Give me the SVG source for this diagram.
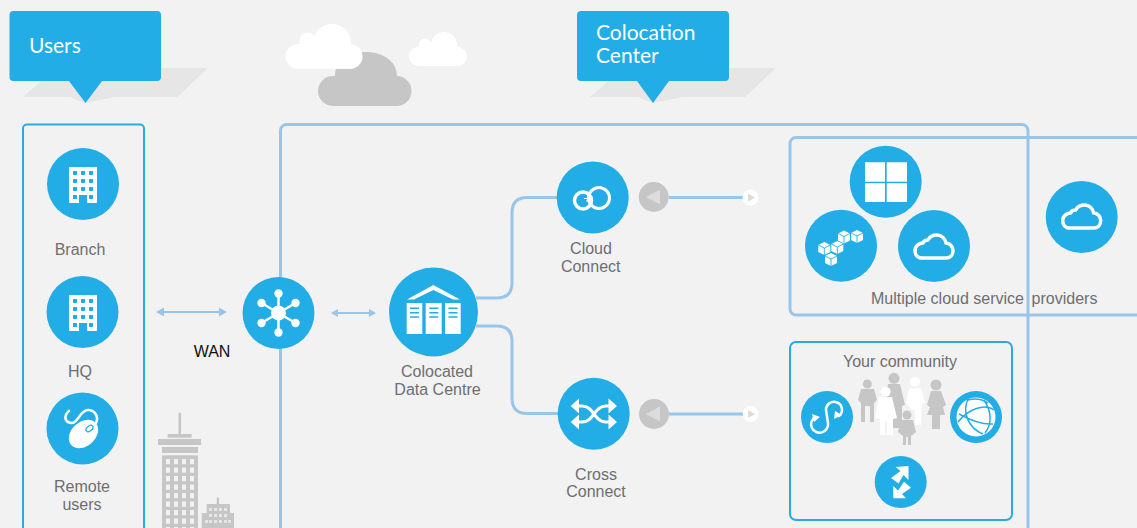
<svg xmlns="http://www.w3.org/2000/svg" width="1137" height="528" viewBox="0 0 1137 528">
<style>
.c{fill:#22ade6}
.w{fill:#fff}
.b{fill:#22ade6}
.ws{fill:none;stroke:#fff;stroke-linecap:round;stroke-linejoin:round}
.l{font-family:"Liberation Sans",Arial,sans-serif;font-size:16px;fill:#6d6e71;text-anchor:middle}
.h{font-family:"Lato","Open Sans",sans-serif;font-size:21px;fill:#fff}
.box1{fill:none;stroke:#29abe2;stroke-width:2}
.box2{fill:none;stroke:#98c6e9;stroke-width:3}
.wire{fill:none;stroke:#98c6e9;stroke-width:3}
.thin{fill:none;stroke:#98c6e9;stroke-width:2}
.ah{fill:#98c6e9}
.g{fill:#c6c6c6}
.sh{fill:#e6e6e6}
</style>
<defs>
<g id="bld">
<path class="w" d="M-14-18H14V18H4V10H-4V18H-14Z"/>
<path class="b" d="M-10-14h4v4h-4zM-2-14h4v4h-4zM6-14h4v4h-4zM-10-6h4v4h-4zM-2-6h4v4h-4zM6-6h4v4h-4zM-10 2h4v4h-4zM-2 2h4v4h-4zM6 2h4v4h-4zM-10 10h4v4h-4zM6 10h4v4h-4z"/>
</g>
<path id="cl" class="ws" stroke-width="3.500" d="M-12 11C-17 11-19 7-19 3.500-19-1-15-4-11-4-10-7-8-7-6-7-4-11 0-12 3-12 8-12 11-8 12-4 16-4 19 0 19 3.500 19 8 16 11 12 11Z"/>
<g id="cube">
<path class="w" d="M0-6.500L6-3.500V3.500L0 6.500-6 3.500V-3.500Z"/>
<path d="M-6-3.500L0-.5 6-3.500M0-.5V6.500" fill="none" stroke="#22ade6" stroke-width=".9"/>
</g>
</defs>
<rect width="1137" height="528" fill="#f2f2f2"/>

<g id="scenery">
<path class="sh" d="M23 97L56 68H208L177 97H115L85 103 70 97Z"/>
<path class="sh" d="M590 97L623 68H776L745 97H683L653 103 638 97Z"/>
<g class="g">
<path d="M333 106A15 15 0 0 1 333 76H335C335 62 349 52 366 52 384 52 397 62 397 76A15 15 0 0 1 396 106Z"/>
<rect x="178.500" y="412.700" width="2.600" height="22"/><rect x="167.700" y="434" width="24" height="3.700"/><rect x="158" y="439" width="43" height="6"/><rect x="162" y="447" width="36" height="6"/>
<rect x="162" y="455.300" width="36" height="72.700"/>
<rect x="216.700" y="497.700" width="2.400" height="7"/><path d="M206.700 504H230V513H234V528H201.700V513H206.700Z"/>
</g>
<path fill="#f2f2f2" d="M166 459h4v5.300h-4zM174 459h4v5.300h-4zM182 459h4v5.300h-4zM190 459h4v5.300h-4zM166 467.500h4v5.300h-4zM174 467.500h4v5.300h-4zM182 467.500h4v5.300h-4zM190 467.500h4v5.300h-4zM166 476h4v5.300h-4zM174 476h4v5.300h-4zM182 476h4v5.300h-4zM190 476h4v5.300h-4zM166 484.500h4v5.300h-4zM174 484.500h4v5.300h-4zM182 484.500h4v5.300h-4zM190 484.500h4v5.300h-4zM166 493h4v5.300h-4zM174 493h4v5.300h-4zM182 493h4v5.300h-4zM190 493h4v5.300h-4zM166 501.500h4v5.300h-4zM174 501.500h4v5.300h-4zM182 501.500h4v5.300h-4zM190 501.500h4v5.300h-4zM166 510h4v5.300h-4zM174 510h4v5.300h-4zM182 510h4v5.300h-4zM190 510h4v5.300h-4zM166 518.500h4v5.300h-4zM174 518.500h4v5.300h-4zM182 518.500h4v5.300h-4zM190 518.500h4v5.300h-4zM166 527h4v1h-4zM174 527h4v1h-4zM182 527h4v1h-4zM190 527h4v1h-4z"/>
<path fill="#e6e6e6" d="M209 508h3v3h-3zM214 508h3v3h-3zM219 508h3v3h-3zM224 508h3v3h-3zM209 514h3v3h-3zM214 514h3v3h-3zM219 514h3v3h-3zM224 514h3v3h-3zM205 520h3v3h-3zM209 520h3v3h-3zM214 520h3v3h-3zM219 520h3v3h-3zM224 520h3v3h-3zM228 520h3v3h-3z"/>
<g class="w">
<circle cx="332" cy="43" r="19"/><circle cx="308" cy="41" r="8.500"/><circle cx="298" cy="56.500" r="12.500"/><circle cx="350" cy="56.500" r="12.500"/><rect x="298" y="44" width="52" height="25"/>
<circle cx="444" cy="45" r="13"/><circle cx="425" cy="45" r="6.500"/><circle cx="418.500" cy="56.500" r="9.500"/><circle cx="457.500" cy="56.500" r="9.500"/><rect x="418" y="47" width="40" height="19"/>
</g>
</g>

<rect id="frame-users" class="box1" x="23" y="124.500" width="121" height="420" rx="4"/>
<rect id="frame-colo" class="box2" x="280.500" y="124.500" width="747.500" height="420" rx="6"/>
<rect id="frame-clouds" class="box2" x="790" y="137.500" width="380" height="177.500" rx="6"/>
<rect id="frame-community" class="box1" x="790" y="342" width="222" height="178" rx="6"/>

<g id="connectors">
<path class="wire" d="M476 298H497Q512 298 512 283V213Q512 197.500 527 197.500H558"/>
<path class="wire" d="M476 326H497Q512 326 512 341V398Q512 413.500 527 413.500H558"/>
<path class="wire" d="M669 197.500H745"/>
<path class="wire" d="M669 414H745"/>
<path class="thin" d="M160 312H224"/>
<path class="ah" d="M156 312L164 307.500V316.500ZM227 312L219 307.500V316.500Z"/>
<path class="thin" d="M335 313H372"/>
<path class="ah" d="M331 313L338 309V317ZM376 313L369 309V317Z"/>
</g>

<g id="callout-users">
<path class="c" d="M13.500 11H157a4 4 0 0 1 4 4V77a4 4 0 0 1-4 4H102L85.500 103 69 81H13.500a4 4 0 0 1-4-4V15a4 4 0 0 1 4-4Z"/>
<text class="h" x="29" y="53">Users</text>
</g>
<g id="callout-colo">
<path class="c" d="M581 11H725a4 4 0 0 1 4 4V77a4 4 0 0 1-4 4H669L653 103 637 81H581a4 4 0 0 1-4-4V15a4 4 0 0 1 4-4Z"/>
<text class="h" x="596" y="40">Colocation</text>
<text class="h" x="596" y="63">Center</text>
</g>

<g id="branch">
<circle class="c" cx="83" cy="184" r="36"/><use href="#bld" x="83" y="185"/>
<text class="l" x="80" y="255">Branch</text>
</g>
<g id="hq">
<circle class="c" cx="82.500" cy="312" r="36"/><use href="#bld" x="83" y="313"/>
<text class="l" x="80" y="377">HQ</text>
</g>
<g id="remote">
<circle class="c" cx="82.500" cy="428.500" r="36"/>
<ellipse class="w" cx="83.500" cy="434" rx="16.500" ry="12" transform="rotate(-42 83.500 434)"/>
<ellipse cx="89.500" cy="428.500" rx="4" ry="2.500" fill="none" stroke="#22ade6" stroke-width="1.300" transform="rotate(-42 89.500 428.500)"/>
<path class="ws" stroke-width="2.600" d="M69 411C63 416 65 423 72 423 78 423 80 410 88 410 95 410 99 417 96 423"/>
<text class="l" x="82" y="492">Remote</text>
<text class="l" x="82" y="510">users</text>
</g>
<g id="wan">
<circle class="c" cx="278.500" cy="313" r="36"/>
<path class="ws" stroke-width="2.500" d="M278.500 293.500V332.500M261.500 303L295.500 323M261.500 323L295.500 303"/>
<g class="w"><circle cx="278.500" cy="313" r="7.500"/><circle cx="278.500" cy="293.500" r="4.200"/><circle cx="278.500" cy="332.500" r="4.200"/><circle cx="261.500" cy="303" r="4.200"/><circle cx="295.500" cy="323" r="4.200"/><circle cx="261.500" cy="323" r="4.200"/><circle cx="295.500" cy="303" r="4.200"/></g>
<text x="212" y="357" style="font-family:'Liberation Sans',Arial,sans-serif;font-size:16px;fill:#111;text-anchor:middle">WAN</text>
</g>
<g id="colocated">
<circle class="c" cx="433.500" cy="312" r="44.500"/>
<path class="w" d="M407 299.500L433.300 285 460 299.500H453L433.300 290 414 299.500Z"/>
<path class="w" d="M406.700 303H422.300V334H406.700ZM425.700 303H441.700V334H425.700ZM445 303H460.700V334H445Z"/>
<path d="M410 308.300H419M410 312.700H419M410 317H419M429.300 308.300H438.300M429.300 312.700H438.300M429.300 317H438.300M448.500 308.300H457.500M448.500 312.700H457.500M448.500 317H457.500" stroke="#22ade6" stroke-width="1.500"/>
<text class="l" x="437" y="377">Colocated</text>
<text class="l" x="437.500" y="395">Data Centre</text>
</g>
<g id="cloud-connect">
<circle class="c" cx="592.700" cy="197.500" r="36"/>
<circle cx="583" cy="200.500" r="8.500" fill="none" stroke="#fff" stroke-width="3.500"/>
<circle cx="599" cy="198" r="10.500" fill="none" stroke="#fff" stroke-width="3"/>
<path d="M584 198.500H587.500M590 198.500H593M586 201H590" stroke="#fff" stroke-width="1.200" fill="none"/>
<text class="l" x="591" y="254">Cloud</text>
<text class="l" x="590.700" y="272">Connect</text>
</g>
<g id="cross-connect">
<circle class="c" cx="593.700" cy="413.700" r="36"/>
<path class="ws" stroke-width="3" stroke-linecap="butt" d="M575 406H582C594 406 594 422 606 422H612M575 422H582C594 422 594 406 606 406H612"/>
<path class="w" d="M570.700 406L579 398.500V413.500ZM570.700 422L579 414.500V429.500ZM617 406L608.500 398.500V413.500ZM617 422L608.500 414.500V429.500Z"/>
<text class="l" x="596" y="480">Cross</text>
<text class="l" x="596" y="497">Connect</text>
</g>
<g id="gate-1">
<circle class="g" cx="653.700" cy="197" r="15"/><path fill="#dcdcdc" d="M646 197L660 189.500V204.500Z"/>
<circle class="w" cx="750.500" cy="197.500" r="8"/><path fill="#dcdcdc" d="M755 197.500L748 193.500V201.500Z"/>
</g>
<g id="gate-2">
<circle class="g" cx="654" cy="414" r="15"/><path fill="#dcdcdc" d="M646 414L660 406.500V421.500Z"/>
<circle class="w" cx="750.700" cy="414" r="8"/><path fill="#dcdcdc" d="M755 414L748 410V418Z"/>
</g>
<g id="windows-cloud">
<circle class="c" cx="885.700" cy="181.700" r="36"/>
<path class="w" d="M865 162.300H885V181.700H865ZM886.700 162.300H907V181.700H886.700ZM865 183.300H885V202H865ZM886.700 183.300H907V202H886.700Z"/>
</g>
<g id="aws-cloud">
<circle class="c" cx="841" cy="245.700" r="36"/>
<use href="#cube" x="844" y="237"/><use href="#cube" x="857" y="236.500"/><use href="#cube" x="824.300" y="248.500"/><use href="#cube" x="837.300" y="247.500"/><use href="#cube" x="831" y="259.500"/>
</g>
<g id="azure-cloud">
<circle class="c" cx="934" cy="246" r="36"/><use href="#cl" x="934" y="247"/>
</g>
<g id="other-cloud">
<circle class="c" cx="1081.700" cy="217" r="36"/><use href="#cl" x="1081.700" y="217"/>
</g>
<text class="l" x="947.500" y="304">Multiple cloud service</text>
<text class="l" x="1064.500" y="304">providers</text>

<g id="community">
<text class="l" x="900" y="367">Your community</text>
<g class="g">
<circle cx="867.300" cy="384" r="4.500"/><path d="M861 389H874L877 400 874 403V422H870V406H865V422H861V403L858 400Z"/>
<circle cx="894" cy="378.300" r="5.500"/><path d="M888 384H900L905 405 902 406V428H892V414H888L886 392Z"/>
<circle cx="936" cy="385" r="5.500"/><path d="M931 391H941L946 405 943 407 945 415H940V429H932V415H927L930 407 927 405Z"/>
<circle cx="907" cy="415" r="4.500"/><path d="M901 420H913L916 432 911 436V445H908V437H906V445H903V436L898 432Z"/>
</g>
<g class="w">
<circle cx="915" cy="382" r="5"/><path d="M909 388H921L925 403 922 404 921 425H915V410H912L906 403Z"/>
<circle cx="885.700" cy="391.700" r="5"/><path d="M879 397H892L897 418 893 419V435H887V421H885V435H880V419L875 418Z"/>
</g>
<circle class="c" cx="827" cy="417" r="26"/>
<path class="ws" stroke-width="2.500" d="M815 417A8.500 8.500 0 1 0 828 423L826 410A8 8 0 1 1 839 416"/>
<path class="w" d="M812 414L820 417 814 422ZM842 415L834 419 835 411Z"/>
<circle class="c" cx="976" cy="417" r="26"/>
<circle class="w" cx="976" cy="417" r="19.500"/>
<path d="M958 422C968 409 985 403 994 410M968 399C962 412 968 428 983 434M984 400C992 412 992 424 985 433M959 414C970 420 982 425 993 424M968 400C975 398 982 399 988 403" fill="none" stroke="#22ade6" stroke-width="1.500"/>
<circle class="c" cx="900.700" cy="482" r="26"/>
<path class="w" d="M908.500 466V480L903.500 475 898.500 483.500 891 478 900.500 471 895.500 467ZM893.300 498.300V486L898 490.500 904 481.700 911 487.700 902 494 906 498.300Z"/>
</g>
</svg>
